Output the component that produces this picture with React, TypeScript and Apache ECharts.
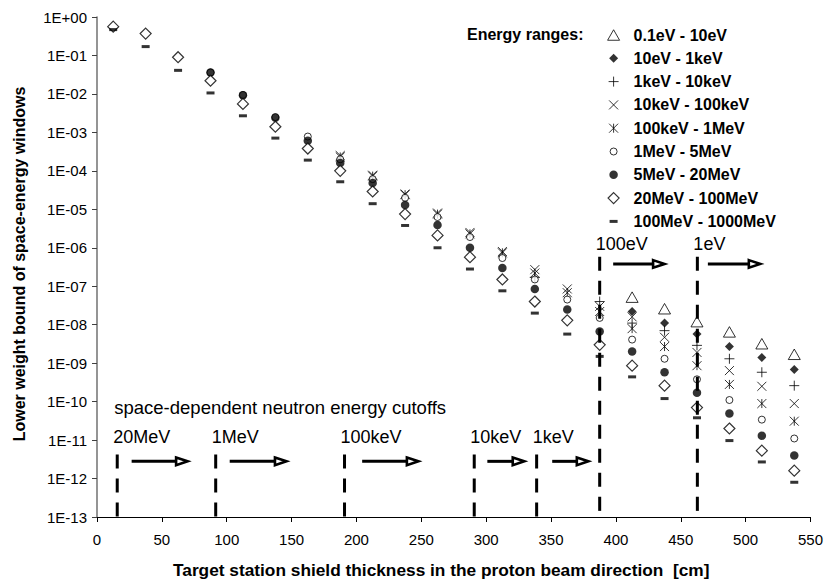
import React, { useEffect, useRef } from 'react';
import * as echarts from 'echarts';

// ---- data (shield thickness in cm, lower weight bounds) ----
const positions = [12.5, 37.5, 62.5, 87.5, 112.5, 137.5, 162.5, 187.5, 212.5, 237.5, 262.5, 287.5, 312.5, 337.5, 362.5, 387.5, 412.5, 437.5, 462.5, 487.5, 512.5, 537.5];

const rangeNames = ['0.1eV - 10eV', '10eV - 1keV', '1keV - 10keV', '10keV - 100keV', '100keV - 1MeV', '1MeV - 5MeV', '5MeV - 20MeV', '20MeV - 100MeV', '100MeV - 1000MeV'];

const e01eV_10eV = [null, null, null, null, null, null, null, null, null, null, null, null, null, null, null, null, 5.2e-8, 2.6e-8, 1.2e-8, 6.5e-9, 3.2e-9, 1.7e-9];
const e10eV_1keV = [null, null, null, null, null, null, null, null, null, null, null, null, null, null, null, null, 2.2e-8, 1.1e-8, 5.7e-9, 2.7e-9, 1.4e-9, 6.8e-10];
const e1keV_10keV = [null, null, null, null, null, null, null, null, null, null, null, null, null, 1.7e-7, null, 4.0e-8, 1.1e-8, 7.0e-9, 2.9e-9, 1.3e-9, 5.8e-10, 2.6e-10];
const e10keV_100keV = [null, null, null, null, null, null, null, 2.5e-4, 7.7e-5, 2.5e-5, 8.0e-6, 2.5e-6, 8.0e-7, 2.7e-7, 8.5e-8, 3.0e-8, 1.6e-8, 4.7e-9, 1.9e-9, 6.4e-10, 2.5e-10, 8.9e-11];
const e100keV_1MeV = [null, null, null, null, null, null, null, 2.3e-4, 7.3e-5, 2.4e-5, 7.5e-6, 2.3e-6, 7.4e-7, 2.2e-7, 6.8e-8, 2.2e-8, 7.9e-9, 2.7e-9, 8.6e-10, 2.8e-10, 8.9e-11, 3.1e-11];
const e1MeV_5MeV = [null, null, null, 3.6e-2, 9.4e-3, 2.5e-3, 7.8e-4, 2.0e-4, 6.1e-5, 2.0e-5, 6.3e-6, 1.9e-6, 5.4e-7, 1.5e-7, 4.5e-8, 1.5e-8, 4.1e-9, 1.3e-9, 3.8e-10, 1.1e-10, 3.4e-11, 1.1e-11];
const e5MeV_20MeV = [null, null, null, 3.6e-2, 9.2e-3, 2.4e-3, 6.1e-4, 1.6e-4, 4.8e-5, 1.3e-5, 3.9e-6, 1.0e-6, 3.0e-7, 8.5e-8, 2.5e-8, 6.7e-9, 2.0e-9, 5.8e-10, 1.7e-10, 4.9e-11, 1.3e-11, 4.0e-12];
const e20MeV_100MeV = [0.56, 0.37, 9.0e-2, 2.2e-2, 5.5e-3, 1.4e-3, 3.8e-4, 1.0e-4, 2.9e-5, 7.5e-6, 2.1e-6, 5.7e-7, 1.5e-7, 4.0e-8, 1.3e-8, 3.0e-9, 8.6e-10, 2.6e-10, 7.0e-11, 2.0e-11, 5.3e-12, 1.6e-12];
const e100MeV_1000MeV = [0.47, 0.17, 4.1e-2, 1.06e-2, 2.7e-3, 7.1e-4, 1.9e-4, 5.2e-5, 1.4e-5, 3.8e-6, 1.0e-6, 2.8e-7, 7.6e-8, 2.0e-8, 5.7e-9, 1.5e-9, 4.4e-10, 1.2e-10, 3.8e-11, 9.7e-12, 2.7e-12, 8.0e-13];

const seriesValues = [e01eV_10eV, e10eV_1keV, e1keV_10keV, e10keV_100keV, e100keV_1MeV, e1MeV_5MeV, e5MeV_20MeV, e20MeV_100MeV, e100MeV_1000MeV];

// y axis: decades from 1E-13 to 1E+00
const yMin = 1e-13;
const yMax = 1;

// cutoff annotations (cm along the x axis, weight values along the y axis)
const cutoffLabels = ['20MeV', '1MeV', '100keV', '10keV', '1keV', '100eV', '1eV'];
const cutoffPositions = [15.6, 91.5, 190.8, 290.8, 338.9, 387.5, 462.8];
const arrowStarts = [26.7, 102.3, 204.4, 300.9, 350.9, 397.9, 470.9];
const arrowEnds = [71.0, 147.2, 248.9, 330.5, 379.9, 438.7, 512.5];
const cutoffLineTops = [4.2e-12, 4.2e-12, 4.2e-12, 4.2e-12, 4.2e-12, 5.8e-7, 5.8e-7];
const arrowLevels = [2.8e-12, 2.8e-12, 2.8e-12, 2.8e-12, 2.8e-12, 3.8e-7, 3.8e-7];
const labelLevels = [1.23e-11, 1.23e-11, 1.23e-11, 1.23e-11, 1.23e-11, 1.27e-6, 1.27e-6];
const cutoffTitle = 'space-dependent neutron energy cutoffs';
const cutoffTitleLevel = 7.0e-11;

const FONT = '"Liberation Sans", Arial, Helvetica, sans-serif';

// marker shapes, each drawn in a common 14x14 box
const BOX = 'M0 0M14 14';
const symbols = [
  'path://' + BOX + 'M1 12.25L7 1.75L13 12.25Z',
  'path://' + BOX + 'M7 2.5L11.5 7L7 11.5L2.5 7Z',
  'path://' + BOX + 'M2 7L12 7M7 2L7 12',
  'path://' + BOX + 'M2.5 2.5L11.5 11.5M11.5 2.5L2.5 11.5',
  'path://' + BOX + 'M2.5 2.5L11.5 11.5M11.5 2.5L2.5 11.5M7 2.5L7 11.5',
  'path://' + BOX + 'M3.5 7A3.5 3.5 0 1 1 10.5 7A3.5 3.5 0 1 1 3.5 7Z',
  'path://' + BOX + 'M2.75 7A4.25 4.25 0 1 1 11.25 7A4.25 4.25 0 1 1 2.75 7Z',
  'path://' + BOX + 'M7 1.5L12.5 7L7 12.5L1.5 7Z',
  'path://' + BOX + 'M3 5.5L11 5.5L11 8.5L3 8.5Z',
];
const NONE = 'rgba(0,0,0,0)';
const styles = [
  { color: '#fff', borderColor: '#000', borderWidth: 1 },
  { color: '#000', borderColor: '#000', borderWidth: 0 },
  { color: NONE, borderColor: '#000', borderWidth: 1 },
  { color: NONE, borderColor: '#000', borderWidth: 1 },
  { color: NONE, borderColor: '#000', borderWidth: 1 },
  { color: '#fff', borderColor: '#000', borderWidth: 1 },
  { color: '#000', borderColor: '#000', borderWidth: 0 },
  { color: '#fff', borderColor: '#000', borderWidth: 1.2 },
  { color: '#000', borderColor: '#000', borderWidth: 0 },
];

function expLabel(e: number) {
  const k = Math.round(e);
  return '1E' + (k >= 0 ? '+' : '-') + String(Math.abs(k)).padStart(2, '0');
}

export default function App() {
  const ref = useRef<HTMLDivElement>(null);
  useEffect(() => {
    if (!ref.current) return;
    const chart = echarts.init(ref.current, undefined, { renderer: 'svg' });
    const series: any[] = rangeNames.map((name, k) => ({
      name,
      type: 'scatter',
      symbol: symbols[k],
      symbolSize: 14,
      silent: true,
      emphasis: { disabled: true },
      itemStyle: styles[k],
      data: positions
        .map((x, i) => {
          const v = seriesValues[k][i];
          return v == null ? null : [x, Math.log10(v)];
        })
        .filter((d) => d !== null),
    }));
    chart.setOption({
      animation: false,
      grid: { left: 97, right: 14, top: 17, bottom: 65, containLabel: false },
      xAxis: {
        type: 'value',
        min: 0,
        max: 550,
        interval: 50,
        axisLine: { show: true, onZero: false, lineStyle: { color: '#000', width: 1.2 } },
        axisTick: { show: true, inside: false, length: 5, lineStyle: { color: '#000' } },
        axisLabel: { fontSize: 15, color: '#000', fontFamily: FONT, margin: 15 },
        splitLine: { show: false },
      },
      yAxis: {
        type: 'value',
        min: Math.log10(yMin),
        max: Math.log10(yMax),
        interval: 1,
        axisLine: { show: true, onZero: false, lineStyle: { color: '#7a7a7a', width: 1.6 } },
        axisTick: { show: true, inside: false, length: 5, lineStyle: { color: '#404040' } },
        axisLabel: { formatter: expLabel, fontSize: 15, color: '#000', fontFamily: FONT, margin: 10 },
        splitLine: { show: false },
      },
      legend: {
        orient: 'vertical',
        left: 606,
        top: 27,
        padding: 0,
        itemWidth: 14,
        itemHeight: 14,
        itemGap: 7.3,
        selectedMode: false,
        textStyle: { fontSize: 16, fontWeight: 'bold', color: '#000', fontFamily: FONT, padding: [0, 0, 0, 8] },
        data: rangeNames.map((name, k) => ({ name, icon: symbols[k], itemStyle: styles[k] })),
      },
      series,
    });

    const px = (x: number, v: number) => chart.convertToPixel({ gridIndex: 0 }, [x, Math.log10(v)]) as number[];
    const elements: any[] = [];
    cutoffLabels.forEach((label, k) => {
      const top = px(cutoffPositions[k], cutoffLineTops[k]);
      const bottom = px(cutoffPositions[k], yMin);
      elements.push({
        type: 'line',
        silent: true,
        z: 100,
        shape: { x1: top[0], y1: top[1], x2: bottom[0], y2: bottom[1] },
        style: { stroke: '#000', lineWidth: 3, lineDash: [14, 10] },
      });
      const a = px(arrowStarts[k], arrowLevels[k]);
      const b = px(arrowEnds[k], arrowLevels[k]);
      const head = 13;
      elements.push({
        type: 'line',
        silent: true,
        z: 100,
        shape: { x1: a[0], y1: a[1], x2: b[0] - head, y2: b[1] },
        style: { stroke: '#000', lineWidth: 3 },
      });
      elements.push({
        type: 'polygon',
        silent: true,
        z: 100,
        shape: { points: [[b[0] - head, b[1] - 3.8], [b[0] - 1.5, b[1]], [b[0] - head, b[1] + 3.8]] },
        style: { fill: '#fff', stroke: '#000', lineWidth: 2.6 },
      });
      const l = px(cutoffPositions[k], labelLevels[k]);
      elements.push({
        type: 'text',
        silent: true,
        z: 100,
        x: l[0] - 4,
        y: l[1],
        style: { text: label, fontSize: 18, fontFamily: FONT, fill: '#000', align: 'left', verticalAlign: 'middle' },
      });
    });
    const t = px(cutoffPositions[0], cutoffTitleLevel);
    elements.push({
      type: 'text',
      silent: true,
      z: 100,
      x: t[0] - 3,
      y: t[1],
      style: { text: cutoffTitle, fontSize: 18.5, fontFamily: FONT, fill: '#000', align: 'left', verticalAlign: 'middle' },
    });
    elements.push({
      type: 'text',
      silent: true,
      x: 467,
      y: 34,
      style: { text: 'Energy ranges:', fontSize: 16, fontWeight: 'bold', fontFamily: FONT, fill: '#000', align: 'left', verticalAlign: 'middle' },
    });
    elements.push({
      type: 'text',
      silent: true,
      x: 19,
      y: 264,
      rotation: Math.PI / 2,
      style: { text: 'Lower weight bound of space-energy windows', fontSize: 16, fontWeight: 'bold', fontFamily: FONT, fill: '#000', align: 'center', verticalAlign: 'middle' },
    });
    elements.push({
      type: 'text',
      silent: true,
      x: 173,
      y: 570,
      style: { text: 'Target station shield thickness in the proton beam direction  [cm]', fontSize: 17.3, fontWeight: 'bold', fontFamily: FONT, fill: '#000', align: 'left', verticalAlign: 'middle' },
    });
    chart.setOption({ graphic: { elements } });
    return () => chart.dispose();
  }, []);
  return <div ref={ref} style={{ position: 'absolute', left: 0, top: 0, width: 826, height: 582 }} />;
}
